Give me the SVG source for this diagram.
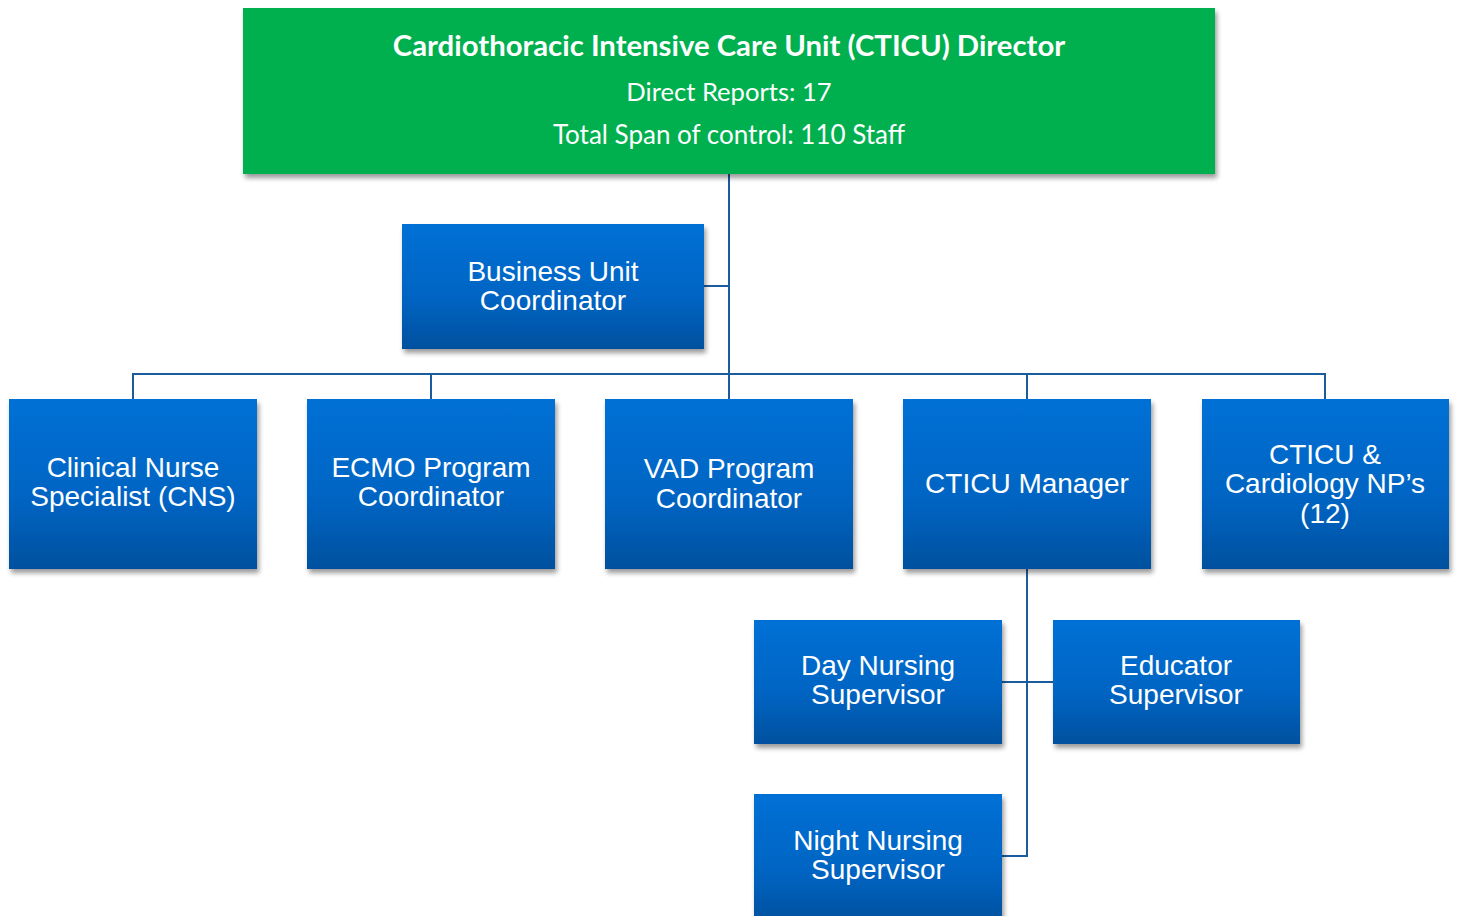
<svg xmlns="http://www.w3.org/2000/svg" width="1457" height="916" viewBox="0 0 1457 916">
<defs>
<linearGradient id="bg" x1="0" y1="0" x2="0" y2="1">
<stop offset="0" stop-color="#0070D6"/>
<stop offset="0.6" stop-color="#0064C2"/>
<stop offset="1" stop-color="#00509E"/>
</linearGradient>
<filter id="sh" x="-10%" y="-10%" width="130%" height="130%">
<feGaussianBlur in="SourceAlpha" stdDeviation="2.5"/>
<feOffset dx="2" dy="4" result="b"/>
<feComponentTransfer><feFuncA type="linear" slope="0.4"/></feComponentTransfer>
<feMerge><feMergeNode/><feMergeNode in="SourceGraphic"/></feMerge>
</filter>
</defs>
<style>
.box{fill:url(#bg);filter:url(#sh)}
.t{font-family:"Liberation Sans",Arial,sans-serif;font-size:28px;fill:#fff;text-anchor:middle}
.g{font-family:Lato,"Open Sans",sans-serif;fill:#fff;text-anchor:middle}
.c{stroke:#1A5C9E;stroke-width:2;fill:none}
</style>
<g id="connectors">
<path class="c" d="M729 174V399M133 399V374H1325V399M431 374V399M1027 374V399M704 286H729M1027 569V856H1002M1002 682H1053"/>
</g>
<g id="director">
<rect x="243" y="8" width="972" height="166" fill="#00B050" filter="url(#sh)"/>
<text class="g" x="729" y="56" font-size="29.3" font-weight="bold">Cardiothoracic Intensive Care Unit (CTICU) Director</text>
<text class="g" x="729" y="101" font-size="25.6">Direct Reports: 17</text>
<text class="g" x="729" y="144" font-size="26">Total Span of control: 110 Staff</text>
</g>
<g id="business">
<rect class="box" x="402" y="224" width="302" height="125"/>
<text class="t" x="553" y="281">Business Unit</text>
<text class="t" x="553" y="310">Coordinator</text>
</g>
<g id="cns">
<rect class="box" x="9" y="399" width="248" height="170"/>
<text class="t" x="133" y="477">Clinical Nurse</text>
<text class="t" x="133" y="506">Specialist (CNS)</text>
</g>
<g id="ecmo">
<rect class="box" x="307" y="399" width="248" height="170"/>
<text class="t" x="431" y="477">ECMO Program</text>
<text class="t" x="431" y="506">Coordinator</text>
</g>
<g id="vad">
<rect class="box" x="605" y="399" width="248" height="170"/>
<text class="t" x="729" y="478">VAD Program</text>
<text class="t" x="729" y="508">Coordinator</text>
</g>
<g id="manager">
<rect class="box" x="903" y="399" width="248" height="170"/>
<text class="t" x="1027" y="493">CTICU Manager</text>
</g>
<g id="np">
<rect class="box" x="1202" y="399" width="247" height="170"/>
<text class="t" x="1325" y="464">CTICU &amp;</text>
<text class="t" x="1325" y="493">Cardiology NP’s</text>
<text class="t" x="1325" y="523">(12)</text>
</g>
<g id="day">
<rect class="box" x="754" y="620" width="248" height="124"/>
<text class="t" x="878" y="675">Day Nursing</text>
<text class="t" x="878" y="704">Supervisor</text>
</g>
<g id="educator">
<rect class="box" x="1053" y="620" width="247" height="124"/>
<text class="t" x="1176" y="675">Educator</text>
<text class="t" x="1176" y="704">Supervisor</text>
</g>
<g id="night">
<rect class="box" x="754" y="794" width="248" height="130"/>
<text class="t" x="878" y="850">Night Nursing</text>
<text class="t" x="878" y="879">Supervisor</text>
</g>
</svg>
